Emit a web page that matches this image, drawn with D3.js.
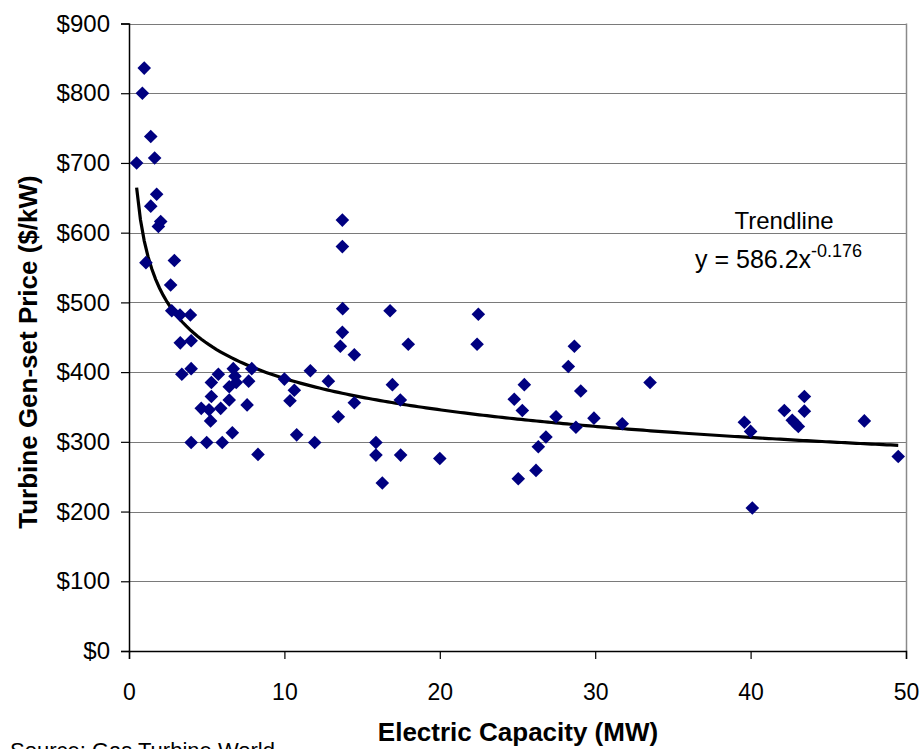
<!DOCTYPE html>
<html>
<head>
<meta charset="utf-8">
<script src="https://cdn.jsdelivr.net/npm/d3@7"></script>
<style>
  body { margin: 0; background: #fff; }
  svg { display: block; font-family: "Liberation Sans", Arial, sans-serif; }
</style>
</head>
<body>
<svg id="chart" width="922" height="749"></svg>
<script>
// Electric capacity (MW) of each turbine gen-set
const capacityMW = [
  0.98, 0.86, 1.40, 0.49, 1.65, 1.78, 1.40, 2.04, 1.89, 1.09, 2.92, 2.68, 2.75, 3.28, 3.95,
  3.30, 4.00, 3.40, 4.00, 5.75, 5.30, 6.71, 6.82, 6.45, 6.90, 7.90, 7.70, 5.30, 6.45, 7.60,
  4.65, 5.15, 5.90, 5.25, 6.65, 4.00, 5.00, 6.00, 8.30,
  10.00, 10.64, 10.36, 10.79, 11.67, 11.95, 12.83, 13.47, 13.73, 13.73, 13.75, 13.73, 13.60,
  14.50, 14.50, 15.89, 15.89, 16.30, 16.80, 16.95, 17.46, 17.48, 17.97, 20.00, 22.40, 22.48,
  25.05, 24.79, 25.44, 25.31, 26.19, 26.34, 26.83, 27.48, 28.27, 28.66, 28.76, 29.07, 29.92,
  31.74, 33.53,
  39.60, 40.00, 40.11, 42.17, 42.68, 42.85, 43.07, 43.46, 43.46, 47.32, 49.50
];
// Turbine gen-set price ($/kW)
const priceUSDperKW = [
  836, 800, 738, 700, 707, 655, 638, 616, 609, 557, 560, 525, 488, 482, 482,
  442, 445, 397, 405, 397, 385, 405, 394, 379, 385, 405, 387, 365, 360, 353,
  348, 346, 348, 330, 313, 299, 299, 299, 282,
  390, 374, 359, 310, 402, 299, 387, 336, 618, 580, 491, 457, 437,
  425, 356, 299, 281, 241, 488, 382, 360, 281, 440, 276, 440, 483,
  247, 361, 382, 345, 259, 293, 307, 336, 408, 437, 321, 373, 334,
  326, 385,
  328, 315, 205, 345, 331, 327, 322, 365, 344, 330, 279
];
// Power trendline as printed on the chart: y = 586.2 x^-0.176
const trendCoefficient = 586.2;
const trendExponent = -0.176;
const xTickValues = [0, 10, 20, 30, 40, 50];
const yTickValues = [0, 100, 200, 300, 400, 500, 600, 700, 800, 900];

const svg = d3.select("#chart");
svg.append("rect").attr("width", 922).attr("height", 749).attr("fill", "#fff");

const x = d3.scaleLinear().domain([0, 50]).range([129, 906]);
const y = d3.scaleLinear().domain([0, 900]).range([651, 23.5]);

// gridlines
svg.append("g")
  .selectAll("line")
  .data(yTickValues.filter(d => d > 0))
  .join("line")
  .attr("x1", x(0)).attr("x2", x(50))
  .attr("y1", d => Math.round(y(d)) + 0.5).attr("y2", d => Math.round(y(d)) + 0.5)
  .attr("stroke", "#7a7a7a").attr("stroke-width", 1.2);

// right border
svg.append("line")
  .attr("x1", x(50) + 0.5).attr("x2", x(50) + 0.5)
  .attr("y1", y(900)).attr("y2", y(0))
  .attr("stroke", "#8a8a8a").attr("stroke-width", 1.5);

// y axis
const yAxis = svg.append("g")
  .attr("transform", `translate(${x(0)},0)`)
  .call(d3.axisLeft(y).tickValues(yTickValues).tickSize(8).tickPadding(11)
        .tickFormat(d => "$" + d));
yAxis.select(".domain").attr("stroke", "#000").attr("stroke-width", 1.5);
yAxis.selectAll(".tick line").attr("stroke", "#000").attr("stroke-width", 1.2);
yAxis.selectAll(".tick text")
  .attr("font-family", "Liberation Sans, Arial, sans-serif")
  .attr("font-size", 24).attr("fill", "#000");

// x axis
const xAxis = svg.append("g")
  .attr("transform", `translate(0,${y(0)})`)
  .call(d3.axisBottom(x).tickValues(xTickValues).tickSize(8).tickPadding(25)
        .tickFormat(d3.format("d")));
xAxis.select(".domain").attr("stroke", "#000").attr("stroke-width", 1.5);
xAxis.selectAll(".tick line").attr("stroke", "#000").attr("stroke-width", 1.2);
xAxis.selectAll(".tick text")
  .attr("font-family", "Liberation Sans, Arial, sans-serif")
  .attr("font-size", 23).attr("fill", "#000");

// trendline over the data range
const xMin = d3.min(capacityMW), xMax = d3.max(capacityMW);
const trendX = d3.range(0, 201).map(i => xMin + (xMax - xMin) * i / 200);
const line = d3.line()
  .x(d => x(d))
  .y(d => y(trendCoefficient * Math.pow(d, trendExponent)))
  .curve(d3.curveLinear);
svg.append("path")
  .datum(trendX)
  .attr("d", line)
  .attr("fill", "none")
  .attr("stroke", "#000")
  .attr("stroke-width", 3.2);

// data points (diamonds)
const data = capacityMW.map((c, i) => ({ c, p: priceUSDperKW[i] }));
svg.append("g")
  .selectAll("path")
  .data(data)
  .join("path")
  .attr("transform", d => `translate(${x(d.c)},${y(d.p)})`)
  .attr("d", "M0,-6.8L6.8,0L0,6.8L-6.8,0Z")
  .attr("fill", "#000080");

// trendline labels
svg.append("text")
  .attr("x", 784).attr("y", 229)
  .attr("text-anchor", "middle")
  .attr("font-size", 24).attr("fill", "#000")
  .text("Trendline");
const eq = svg.append("text")
  .attr("x", 695).attr("y", 268)
  .attr("font-size", 25).attr("fill", "#000");
eq.append("tspan").text("y = " + trendCoefficient.toFixed(1) + "x");
eq.append("tspan").attr("font-size", 18).attr("dy", -11).text(String(trendExponent));

// axis titles
svg.append("text")
  .attr("x", 518).attr("y", 741)
  .attr("text-anchor", "middle")
  .attr("font-size", 26).attr("font-weight", "bold").attr("fill", "#000")
  .text("Electric Capacity (MW)");
svg.append("text")
  .attr("transform", "translate(37,352) rotate(-90)")
  .attr("text-anchor", "middle")
  .attr("font-size", 26).attr("font-weight", "bold").attr("fill", "#000")
  .text("Turbine Gen-set Price ($/kW)");

// source note (cut off at bottom edge, as in the original)
svg.append("text")
  .attr("x", 10).attr("y", 758)
  .attr("font-size", 22).attr("fill", "#000")
  .text("Source:  Gas Turbine World");
</script>
</body>
</html>
